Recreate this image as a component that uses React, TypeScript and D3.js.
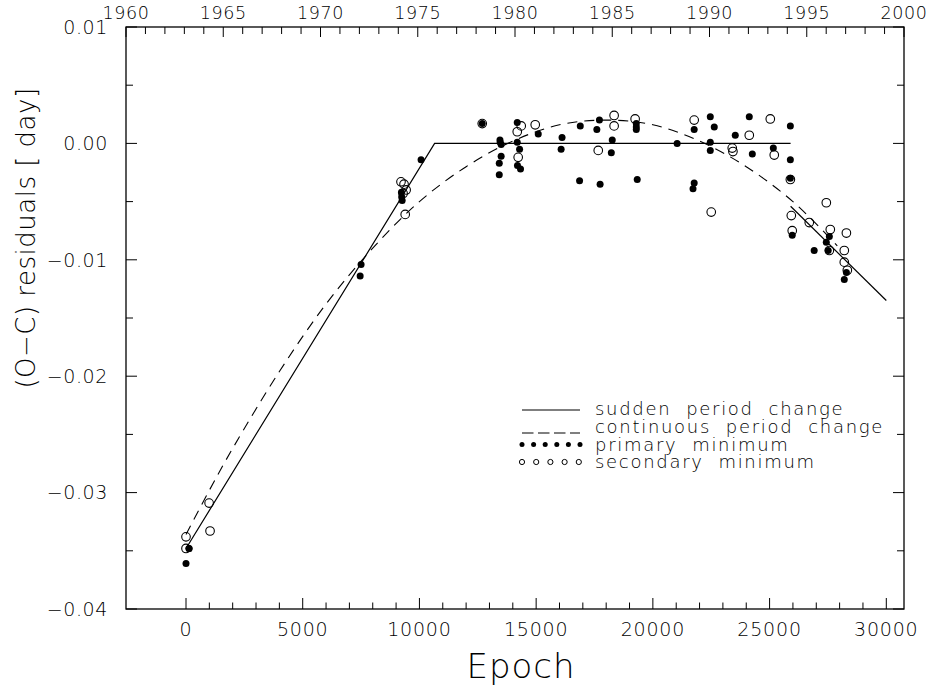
import React from 'react';
import * as d3 from 'd3';

// primary minima (filled)
const primaryEpoch = [0, 130, 130, 7500, 7460, 9230, 9240, 9260, 10070, 12690, 13450, 13460, 13500, 13500, 13420, 13420,
  14190, 14190, 14290, 14200, 14330, 15090, 16110, 16070, 16890, 16860, 17710, 17600, 17740, 18260, 18220, 19290, 19290,
  19290, 19330, 21040, 21770, 21770, 21720, 22460, 22630, 22460, 22460, 23530, 24130, 24260, 25160, 25890, 25890, 25890,
  25970, 26910, 27430, 27560, 27510, 28290, 28200];
const primaryOC = [-0.0361, -0.0348, -0.0348, -0.0104, -0.0114, -0.0042, -0.0046, -0.0049, -0.0014, 0.0017, 0.0003, 0.0001,
  -0.0001, -0.0011, -0.0017, -0.0027, 0.0018, 0.0001, -0.0005, -0.0019, -0.0022, 0.0008, 0.0005, -0.0005, 0.0015, -0.0032,
  0.0020, 0.0012, -0.0035, 0.0003, -0.0008, 0.0017, 0.0014, 0.0012, -0.0031, 0.0000, 0.0012, -0.0034, -0.0039, 0.0023,
  0.0014, 0.0001, -0.0006, 0.0007, 0.0023, -0.0009, -0.0004, 0.0015, -0.0014, -0.0030, -0.0079, -0.0092, -0.0085, -0.0080,
  -0.0092, -0.0111, -0.0117];

// secondary minima (open)
const secondaryEpoch = [0, 0, 990, 1030, 9210, 9340, 9430, 9300, 9390, 12690, 14360, 14190, 14230, 14960, 17660, 18340,
  18340, 19240, 21770, 22500, 23400, 23430, 24130, 25030, 25200, 25890, 25930, 25970, 26700, 27430, 27600, 27560, 28290,
  28200, 28200, 28330];
const secondaryOC = [-0.0338, -0.0348, -0.0309, -0.0333, -0.0033, -0.0035, -0.0040, -0.0043, -0.0061, 0.0017, 0.0015,
  0.0010, -0.0012, 0.0016, -0.0006, 0.0024, 0.0015, 0.0021, 0.0020, -0.0059, -0.0004, -0.0007, 0.0007, 0.0021, -0.0010,
  -0.0031, -0.0062, -0.0075, -0.0068, -0.0051, -0.0074, -0.0092, -0.0077, -0.0092, -0.0102, -0.0109];

// sudden period change (solid)
const suddenEpochA = [0, 10650, 25900];
const suddenOCA = [-0.0348, 0.0, 0.0];
const suddenEpochB = [25900, 30000];
const suddenOCB = [-0.0054, -0.0135];

// continuous period change (dashed)
const contEpoch = [0, 1000, 2000, 4000, 6000, 8000, 10000, 12000, 14000, 16000, 18000, 20000, 22000, 24000, 26000, 27900];
const contOC = [-0.0336, -0.0298, -0.0262, -0.0196, -0.0138, -0.0090, -0.0050, -0.0020, 0.0002, 0.0016, 0.0020, 0.0016,
  0.0002, -0.0020, -0.0050, -0.0088];

const epochTicks = d3.range(0, 30001, 1000);
const epochLabels = [0, 5000, 10000, 15000, 20000, 25000, 30000];
const yearTicks = d3.range(1960, 2001, 1);
const yearLabels = [1960, 1965, 1970, 1975, 1980, 1985, 1990, 1995, 2000];
const ocTicks = d3.range(-0.04, 0.0101, 0.005);
const ocLabels = [0.01, 0.0, -0.01, -0.02, -0.03, -0.04];

const legendItems = ['sudden period change', 'continuous period change', 'primary minimum', 'secondary minimum'];

const W = 928;
const H = 687;
const L = 126, R = 904, T = 27, B = 609;
const FONT = '"DejaVu Sans", "Noto Sans", sans-serif';
const INK = '#000';

export default function App() {
  const x = d3.scaleLinear().domain([0, 30000]).range([186, 886.3]);
  const year = d3.scaleLinear().domain([1960, 2000]).range([L, R]);
  const y = d3.scaleLinear().domain([-0.04, 0.01]).range([B, T]);

  const solidA = d3.line<number>().x((d) => x(d)).y((_, i) => y(suddenOCA[i]))(suddenEpochA) || '';
  const solidB = d3.line<number>().x((d) => x(d)).y((_, i) => y(suddenOCB[i]))(suddenEpochB) || '';
  const dashed = d3.line<number>().x((d) => x(d)).y((_, i) => y(contOC[i])).curve(d3.curveCatmullRom)(contEpoch) || '';

  const fmt = (v: number) => {
    const s = Math.abs(v).toFixed(2);
    return v < -1e-9 ? '\u2212' + s : s;
  };

  const isMajorOC = (v: number) => Math.abs(Math.round(v * 100) - v * 100) < 1e-6;

  return (
    <svg width={W} height={H} style={{ position: 'absolute', left: 0, top: 0, background: '#fff' }}>
      <rect x={0} y={0} width={W} height={H} fill="#fff" />
      {/* frame */}
      <rect x={L} y={T} width={R - L} height={B - T} fill="none" stroke={INK} strokeWidth={1.3} />

      {/* bottom epoch ticks */}
      {epochTicks.map((t) => (
        <line key={'eb' + t} x1={x(t)} x2={x(t)} y1={B} y2={B - (t % 5000 === 0 ? 11 : 6.5)} stroke={INK} strokeWidth={1} />
      ))}
      {epochLabels.map((t) => (
        <text key={'el' + t} x={x(t)} y={636} textAnchor="middle" fontFamily={FONT} fontSize={19} fontWeight={200}
          letterSpacing={0.8} fill={INK}>{t}</text>
      ))}

      {/* top year ticks */}
      {yearTicks.map((t) => (
        <line key={'yt' + t} x1={year(t)} x2={year(t)} y1={T} y2={T + (t % 5 === 0 ? 10 : 7)} stroke={INK} strokeWidth={1} />
      ))}
      {yearLabels.map((t) => (
        <text key={'yl' + t} x={year(t)} y={19} textAnchor="middle" fontFamily={FONT} fontSize={17.5} fontWeight={200}
          letterSpacing={0.6} fill={INK}>{t}</text>
      ))}

      {/* y ticks left and right */}
      {ocTicks.map((t) => {
        const len = isMajorOC(t) ? 11 : 7;
        return (
          <g key={'oc' + t.toFixed(3)}>
            <line x1={L} x2={L + len} y1={y(t)} y2={y(t)} stroke={INK} strokeWidth={1} />
            <line x1={R} x2={R - len} y1={y(t)} y2={y(t)} stroke={INK} strokeWidth={1} />
          </g>
        );
      })}
      {ocLabels.map((t) => (
        <text key={'ol' + t} x={108} y={y(t)} dy="0.36em" textAnchor="end" fontFamily={FONT} fontSize={19} fontWeight={200}
          letterSpacing={0.6} fill={INK}>{fmt(t)}</text>
      ))}

      {/* axis titles */}
      <text x={521} y={678} textAnchor="middle" fontFamily={FONT} fontSize={34} fontWeight={200} letterSpacing={1} fill={INK}>
        Epoch
      </text>
      <text transform={`translate(35, 238) rotate(-90)`} textAnchor="middle" fontFamily={FONT} fontSize={26}
        fontWeight={200} letterSpacing={0.5} fill={INK}>
        (O{'\u2212'}C) residuals [ day]
      </text>

      {/* model curves */}
      <path d={solidA} fill="none" stroke={INK} strokeWidth={1.2} />
      <path d={solidB} fill="none" stroke={INK} strokeWidth={1.2} />
      <path d={dashed} fill="none" stroke={INK} strokeWidth={1.1} strokeDasharray="10,7" />

      {/* data */}
      {secondaryEpoch.map((e, i) => (
        <circle key={'s' + i} cx={x(e)} cy={y(secondaryOC[i])} r={4.3} fill="none" stroke={INK} strokeWidth={1.1} />
      ))}
      {primaryEpoch.map((e, i) => (
        <circle key={'p' + i} cx={x(e)} cy={y(primaryOC[i])} r={3.5} fill={INK} />
      ))}

      {/* legend */}
      <g fontFamily={FONT} fontSize={18} fontWeight={200} fill={INK} letterSpacing={1.7}>
        <line x1={522} x2={580} y1={410} y2={410} stroke={INK} strokeWidth={1.2} />
        <line x1={522} x2={580} y1={433} y2={433} stroke={INK} strokeWidth={1.2} strokeDasharray="11.5,4.5" />
        {d3.range(6).map((k) => (
          <circle key={'lp' + k} cx={522 + k * 11.6} cy={444.5} r={2.5} fill={INK} />
        ))}
        {d3.range(5).map((k) => (
          <circle key={'ls' + k} cx={522 + k * 14.2} cy={462} r={2.6} fill="none" stroke={INK} strokeWidth={1} />
        ))}
        {legendItems.map((s, i) => (
          <text key={s} x={595} y={415 + i * 17.8}>{s.split(' ').join('\u00a0\u00a0')}</text>
        ))}
      </g>
    </svg>
  );
}
